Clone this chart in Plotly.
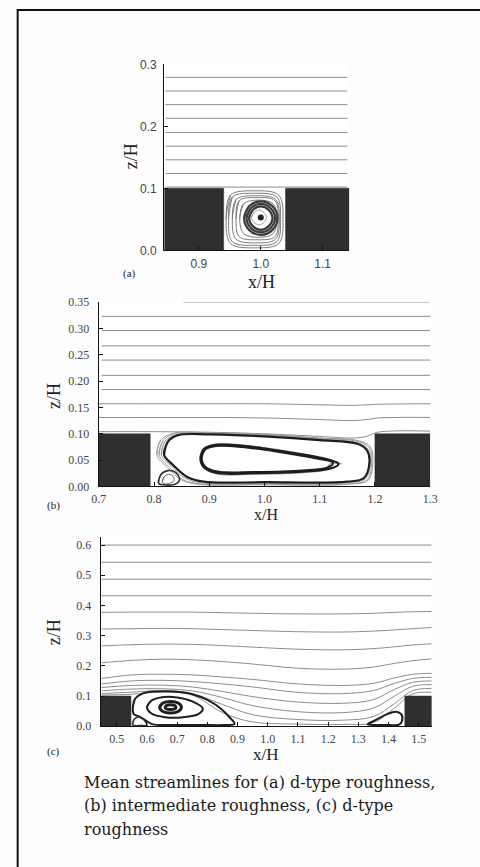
import plotly.graph_objects as go

W, H = 480, 867

# ---------------- panel (a): d-type cavity ----------------
A_X_RANGE = [0.844, 1.143]
A_Z_RANGE = [0.0, 0.3]
A_BLOCKS = [(0.844, 0.94, 0.1), (1.04, 1.143, 0.1)]
A_STREAM_Z = [0.301, 0.279, 0.257, 0.235, 0.213, 0.190, 0.168, 0.146, 0.124, 0.102]
A_STREAM_X = [0.846, 1.140]
A_LOOPS_LIGHT = [
    ([0.944, 0.951, 0.990, 1.029, 1.036, 1.029, 0.990, 0.951],
     [0.050, 0.089, 0.096, 0.089, 0.050, 0.011, 0.004, 0.011]),
    ([0.948, 0.954, 0.990, 1.026, 1.032, 1.026, 0.990, 0.954],
     [0.050, 0.086, 0.092, 0.086, 0.050, 0.014, 0.008, 0.014]),
    ([0.954, 0.960, 0.992, 1.024, 1.030, 1.024, 0.992, 0.960],
     [0.050, 0.082, 0.088, 0.082, 0.050, 0.018, 0.012, 0.018]),
    ([0.960, 0.965, 0.994, 1.023, 1.028, 1.023, 0.994, 0.965],
     [0.051, 0.080, 0.085, 0.080, 0.051, 0.022, 0.017, 0.022]),
    ([0.966, 0.972, 0.996, 1.020, 1.026, 1.020, 0.996, 0.972],
     [0.051, 0.075, 0.081, 0.075, 0.051, 0.027, 0.021, 0.027]),
]
A_LOOPS_DARK = [
    ([0.973, 0.981, 1.000, 1.019, 1.027, 1.019, 1.000, 0.981],
     [0.052, 0.071, 0.079, 0.071, 0.052, 0.033, 0.025, 0.033]),
    ([0.977, 0.984, 1.000, 1.016, 1.023, 1.016, 1.000, 0.984],
     [0.052, 0.068, 0.075, 0.068, 0.052, 0.036, 0.029, 0.036]),
    ([0.981, 0.987, 1.000, 1.013, 1.019, 1.013, 1.000, 0.987],
     [0.052, 0.065, 0.071, 0.065, 0.052, 0.039, 0.033, 0.039]),
]
A_CORE = ([0.985, 0.989, 0.997, 1.005, 1.009, 1.005, 0.997, 0.989],
          [0.053, 0.061, 0.065, 0.061, 0.053, 0.045, 0.041, 0.045])
A_CENTER = (1.000, 0.053)
A_XTICKS = [0.9, 1.0, 1.1]
A_ZTICKS = [0.0, 0.1, 0.2, 0.3]

# ---------------- panel (b): intermediate roughness ----------------
B_X_RANGE = [0.7, 1.3]
B_Z_RANGE = [0.0, 0.35]
B_BLOCKS = [(0.7, 0.793, 0.1), (1.2, 1.3, 0.1)]
B_FLAT_Z = [0.323, 0.296, 0.267, 0.240, 0.211, 0.184]
B_TOP_LINE = ([0.853, 1.300], [0.350, 0.350])
B_WAVY_X = [0.700, 0.800, 0.900, 1.000, 1.100, 1.160, 1.185, 1.205, 1.300]
B_WAVY_Z = [
    [0.157, 0.157, 0.157, 0.157, 0.155, 0.154, 0.155, 0.156, 0.157],
    [0.131, 0.131, 0.131, 0.130, 0.127, 0.125, 0.127, 0.130, 0.131],
    [0.104, 0.104, 0.103, 0.100, 0.095, 0.092, 0.095, 0.103, 0.105],
]
B_LOOPS_LIGHT = [
    ([0.805, 0.812, 0.835, 0.900, 1.000, 1.100, 1.170, 1.192, 1.196, 1.188, 1.150, 1.000, 0.880, 0.850, 0.825],
     [0.060, 0.088, 0.101, 0.102, 0.099, 0.092, 0.087, 0.075, 0.045, 0.012, 0.004, 0.003, 0.004, 0.012, 0.035]),
    ([0.809, 0.816, 0.837, 0.900, 1.000, 1.100, 1.170, 1.190, 1.194, 1.186, 1.150, 1.000, 0.882, 0.852, 0.828],
     [0.060, 0.087, 0.100, 0.101, 0.098, 0.091, 0.085, 0.073, 0.045, 0.013, 0.005, 0.004, 0.005, 0.013, 0.036]),
    ([0.813, 0.820, 0.840, 0.900, 1.000, 1.100, 1.169, 1.188, 1.192, 1.183, 1.150, 1.000, 0.885, 0.856, 0.832],
     [0.060, 0.086, 0.098, 0.100, 0.097, 0.090, 0.083, 0.070, 0.045, 0.015, 0.007, 0.006, 0.007, 0.016, 0.038]),
    ([1.118, 1.113, 1.070, 0.980, 0.912, 0.888, 0.893, 0.913, 0.960, 1.030, 1.095, 1.140],
     [0.043, 0.033, 0.026, 0.023, 0.024, 0.038, 0.072, 0.081, 0.079, 0.069, 0.056, 0.043]),
]
B_LOOPS_BOLD = [
    ([0.818, 0.825, 0.842, 0.900, 1.000, 1.100, 1.168, 1.186, 1.190, 1.180, 1.150, 1.000, 0.890, 0.860, 0.835],
     [0.060, 0.085, 0.097, 0.099, 0.095, 0.088, 0.081, 0.068, 0.045, 0.016, 0.009, 0.008, 0.009, 0.018, 0.040]),
    ([0.886, 0.892, 0.912, 0.960, 1.030, 1.090, 1.124, 1.115, 1.070, 0.980, 0.915, 0.892],
     [0.055, 0.070, 0.077, 0.075, 0.065, 0.054, 0.045, 0.036, 0.030, 0.027, 0.028, 0.038]),
    ([0.884, 0.890, 0.912, 0.960, 1.030, 1.100, 1.134, 1.120, 1.070, 0.980, 0.912, 0.889],
     [0.055, 0.071, 0.079, 0.077, 0.067, 0.055, 0.043, 0.034, 0.028, 0.025, 0.026, 0.038]),
]
B_CORNER = [
    ([0.808, 0.812, 0.825, 0.840, 0.846, 0.838, 0.820],
     [0.006, 0.022, 0.030, 0.026, 0.012, 0.004, 0.003]),
    ([0.815, 0.818, 0.826, 0.834, 0.836, 0.828, 0.819],
     [0.008, 0.018, 0.023, 0.020, 0.011, 0.006, 0.005]),
]
B_XTICKS = [0.7, 0.8, 0.9, 1.0, 1.1, 1.2, 1.3]
B_ZTICKS = [0.00, 0.05, 0.10, 0.15, 0.20, 0.25, 0.30, 0.35]

# ---------------- panel (c): d-type, wide spacing ----------------
C_X_RANGE = [0.447, 1.543]
C_Z_RANGE = [0.0, 0.628]
C_BLOCKS = [(0.447, 0.547, 0.1), (1.454, 1.543, 0.1)]
C_FLAT_Z = [0.600, 0.543, 0.487, 0.432]
C_STREAM_X = [0.450, 0.550, 0.650, 0.750, 0.850, 0.950, 1.100, 1.250, 1.350, 1.420, 1.480, 1.543]
C_STREAM_Z = [
    [0.377, 0.378, 0.378, 0.378, 0.376, 0.374, 0.372, 0.372, 0.374, 0.377, 0.379, 0.380],
    [0.322, 0.323, 0.324, 0.323, 0.320, 0.317, 0.313, 0.312, 0.315, 0.319, 0.323, 0.327],
    [0.266, 0.270, 0.272, 0.271, 0.267, 0.262, 0.255, 0.253, 0.257, 0.263, 0.269, 0.273],
    [0.210, 0.218, 0.222, 0.220, 0.214, 0.206, 0.192, 0.189, 0.196, 0.208, 0.217, 0.223],
    [0.158, 0.170, 0.172, 0.170, 0.163, 0.155, 0.140, 0.135, 0.142, 0.160, 0.172, 0.175],
    [0.140, 0.150, 0.152, 0.148, 0.140, 0.130, 0.112, 0.108, 0.118, 0.142, 0.158, 0.162],
    [0.128, 0.135, 0.136, 0.130, 0.115, 0.098, 0.080, 0.076, 0.088, 0.122, 0.145, 0.150],
    [0.117, 0.123, 0.124, 0.117, 0.095, 0.068, 0.048, 0.045, 0.060, 0.100, 0.132, 0.138],
    [0.108, 0.113, 0.117, 0.108, 0.072, 0.038, 0.022, 0.020, 0.032, 0.075, 0.118, 0.125],
    [0.103, 0.106, 0.113, 0.103, 0.045, 0.014, 0.007, 0.006, 0.012, 0.060, 0.107, 0.112],
]
C_LOOPS_BOLD = [
    ([0.553, 0.560, 0.585, 0.630, 0.690, 0.750, 0.800, 0.845, 0.875, 0.890, 0.860, 0.780, 0.680, 0.620, 0.600, 0.575, 0.556],
     [0.060, 0.090, 0.108, 0.115, 0.115, 0.106, 0.087, 0.058, 0.028, 0.008, 0.004, 0.004, 0.004, 0.006, 0.016, 0.032, 0.040]),
    ([0.600, 0.615, 0.650, 0.700, 0.750, 0.785, 0.770, 0.720, 0.660, 0.615],
     [0.063, 0.085, 0.096, 0.095, 0.082, 0.058, 0.040, 0.030, 0.030, 0.042]),
    ([1.330, 1.360, 1.395, 1.425, 1.442, 1.445, 1.435, 1.400, 1.360],
     [0.006, 0.022, 0.040, 0.048, 0.040, 0.018, 0.005, 0.004, 0.004]),
]
C_CORE = [
    ([0.642, 0.653, 0.678, 0.703, 0.714, 0.703, 0.678, 0.653],
     [0.063, 0.077, 0.082, 0.077, 0.063, 0.049, 0.044, 0.049]),
    ([0.660, 0.665, 0.678, 0.691, 0.696, 0.691, 0.678, 0.665],
     [0.063, 0.069, 0.071, 0.069, 0.063, 0.057, 0.055, 0.057]),
]
C_CORNER = ([0.553, 0.556, 0.568, 0.585, 0.597, 0.600, 0.580],
            [0.004, 0.020, 0.030, 0.026, 0.012, 0.003, 0.002])
C_XTICKS = [0.5, 0.6, 0.7, 0.8, 0.9, 1.0, 1.1, 1.2, 1.3, 1.4, 1.5]
C_ZTICKS = [0.0, 0.1, 0.2, 0.3, 0.4, 0.5, 0.6]

CAPTION = ["Mean streamlines for (a) d-type roughness,",
           "(b) intermediate roughness, (c) d-type",
           "roughness"]

# ---------------- styling ----------------
STREAM = "#8c8c8c"
DARK = "#1e1e1e"
BLOCK = "#2f2f2f"
SERIF = "Liberation Serif, Times New Roman, serif"
SANS = "Liberation Sans, Arial, sans-serif"
CAPTION_FONT = "DejaVu Serif, serif"


def px(x):
    return x / W


def py(y):
    return 1 - y / H


fig = go.Figure()


def closed(xs, zs):
    # wrap around once more so the spline closes smoothly
    return list(xs) + list(xs[:2]), list(zs) + list(zs[:2])


def add_line(xs, zs, ax, color=STREAM, width=1.0, spline=True):
    fig.add_trace(go.Scatter(
        x=xs, y=zs, mode="lines", xaxis=ax[0], yaxis=ax[1],
        line=dict(color=color, width=width, shape="spline" if spline else "linear",
                  smoothing=1.0),
        hoverinfo="skip", showlegend=False))


def add_loop(loop, ax, color, width):
    xs, zs = closed(*loop)
    add_line(xs, zs, ax, color, width)


def add_block(b, ax):
    x0, x1, h = b
    fig.add_trace(go.Scatter(
        x=[x0, x1, x1, x0, x0], y=[0, 0, h, h, 0], mode="lines",
        xaxis=ax[0], yaxis=ax[1], fill="toself", fillcolor=BLOCK,
        line=dict(color=BLOCK, width=0.5), hoverinfo="skip", showlegend=False))


# panel (a)
AX_A = ("x", "y")
for z in A_STREAM_Z:
    add_line(A_STREAM_X, [z, z], AX_A, width=1.0, spline=False)
for lp in A_LOOPS_LIGHT:
    add_loop(lp, AX_A, "#7a7a7a", 1.0)
for lp in A_LOOPS_DARK:
    add_loop(lp, AX_A, "#3a3a3a", 2.2)
add_loop(A_CORE, AX_A, "#9a9a9a", 1.0)
fig.add_trace(go.Scatter(x=[A_CENTER[0]], y=[A_CENTER[1]], mode="markers",
                         xaxis="x", yaxis="y", marker=dict(color=DARK, size=6),
                         hoverinfo="skip", showlegend=False))
for b in A_BLOCKS:
    add_block(b, AX_A)

# panel (b)
AX_B = ("x2", "y2")
for z in B_FLAT_Z:
    add_line([B_X_RANGE[0] + 0.005, B_X_RANGE[1]], [z, z], AX_B, spline=False)
add_line(*B_TOP_LINE, AX_B, spline=False)
for zs in B_WAVY_Z:
    add_line(B_WAVY_X, zs, AX_B)
for lp in B_LOOPS_LIGHT:
    add_loop(lp, AX_B, "#9a9a9a", 1.0)
for lp in B_LOOPS_BOLD:
    add_loop(lp, AX_B, DARK, 2.2)
add_loop(B_CORNER[0], AX_B, "#333333", 1.6)
add_loop(B_CORNER[1], AX_B, "#666666", 1.0)
for b in B_BLOCKS:
    add_block(b, AX_B)

# panel (c)
AX_C = ("x3", "y3")
for z in C_FLAT_Z:
    add_line([C_STREAM_X[0], C_STREAM_X[-1]], [z, z], AX_C, spline=False)
for zs in C_STREAM_Z:
    add_line(C_STREAM_X, zs, AX_C)
for lp in C_LOOPS_BOLD:
    add_loop(lp, AX_C, DARK, 2.0)
for lp in C_CORE:
    add_loop(lp, AX_C, DARK, 3.0)
add_loop(C_CORNER, AX_C, "#333333", 1.6)
for b in C_BLOCKS:
    add_block(b, AX_C)


def axis_style(rng, ticks, fmt, font, dom, anchor, standoff):
    return dict(range=rng, domain=dom, anchor=anchor, tickvals=ticks, tickformat=fmt,
                ticks="inside", ticklen=4, tickwidth=1, tickcolor="#111",
                showline=True, linecolor="#111", linewidth=1.2, mirror=False,
                showgrid=False, zeroline=False, fixedrange=True,
                ticklabelstandoff=standoff,
                tickfont=dict(family=font, size=12, color="#444"))


fig.update_layout(
    width=W, height=H, margin=dict(l=0, r=0, t=0, b=0),
    paper_bgcolor="#fdfdfd", plot_bgcolor="#ffffff",
    xaxis=axis_style(A_X_RANGE, A_XTICKS, ".1f", SANS, [px(161.7), px(353)], "y", 2),
    yaxis=axis_style(A_Z_RANGE, A_ZTICKS, ".1f", SANS, [py(247.3), py(58.3)], "x", 4),
    xaxis2=axis_style(B_X_RANGE, B_XTICKS, ".1f", SERIF, [px(94), px(436.7)], "y2", 1),
    yaxis2=axis_style(B_Z_RANGE, B_ZTICKS, ".2f", SERIF, [py(487.3), py(300)], "x2", 6),
    xaxis3=axis_style(C_X_RANGE, C_XTICKS, ".1f", SERIF, [px(96), px(438.3)], "y3", 1),
    yaxis3=axis_style(C_Z_RANGE, C_ZTICKS, ".1f", SERIF, [py(731), py(538.3)], "x3", 6),
)

# outer frame of the figure page
fig.add_shape(type="rect", xref="paper", yref="paper",
              x0=px(10), x1=1.05, y0=-0.05, y1=py(3),
              line=dict(color="#111", width=2), layer="above")


def note(text, x, y, size, font=SERIF, angle=0, xanchor="center", color="#222"):
    fig.add_annotation(text=text, x=px(x), y=py(y), xref="paper", yref="paper",
                       showarrow=False, textangle=angle, xanchor=xanchor,
                       yanchor="middle", borderpad=0,
                       font=dict(family=font, size=size, color=color))


# axis titles and panel tags
note("z/H", 127, 152, 18, angle=-90)
note("x/H", 262, 280, 18)
note("(a)", 126, 271, 11)
note("z/H", 47, 395, 18, angle=-90)
note("x/H", 267, 516, 16)
note("(b)", 47, 507, 11)
note("z/H", 47, 635, 18, angle=-90)
note("x/H", 267, 760, 17)
note("(c)", 47, 757, 11)

for i, line in enumerate(CAPTION):
    note(line, 78, 788 + 24 * i, 16, font=CAPTION_FONT, xanchor="left", color="#1a1a1a")

fig.write_html("out.html")
